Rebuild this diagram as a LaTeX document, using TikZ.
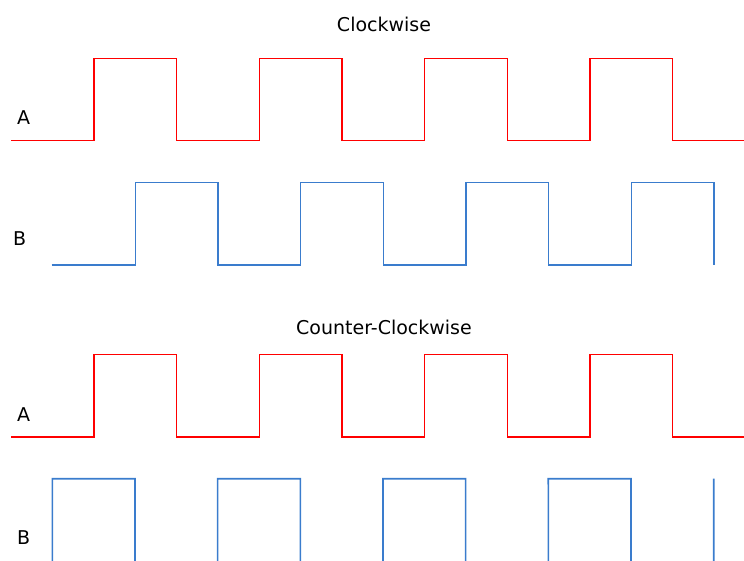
\documentclass[tikz,border=0pt]{standalone}
\usepackage{fontspec}
\setmainfont{DejaVu Sans}
\definecolor{sigred}{RGB}{255,0,0}
\definecolor{sigblue}{RGB}{58,124,205}
\tikzset{
  sigA/.style={draw=sigred, line width=1.3pt, line join=miter},
  sigB/.style={draw=sigblue, line width=1.6pt, line join=miter},
  lbl/.style={font=\fontsize{19}{22}\selectfont, inner sep=0pt},
  ttl/.style={font=\fontsize{19}{22}\selectfont, inner sep=0pt}
}
\begin{document}
\begin{tikzpicture}[x=1pt,y=-1pt]
\useasboundingbox (0,0) rectangle (744,560);
\clip (0,0) rectangle (744,560);
\def\P{165.33}
% ---- Clockwise ----
\node[ttl] (cwtitle) at (384,24) {Clockwise};
\node[lbl, anchor=west] (cwA) at (17,118) {A};
\node[lbl, anchor=west] (cwB) at (13,239) {B};
\draw[sigA] (11,140.7) \foreach \i in {0,1,2,3} {
  -- ({94+\P*\i},140.7) -- ({94+\P*\i},58.3)
  -- ({176.67+\P*\i},58.3) -- ({176.67+\P*\i},140.7) } -- (744,140.7);
\draw[sigB] (51.7,265) \foreach \i in {0,1,2,3} {
  -- ({135.33+\P*\i},265) -- ({135.33+\P*\i},182.3)
  -- ({218+\P*\i},182.3) -- ({218+\P*\i},265) };
% ---- Counter-Clockwise ----
\node[ttl] (ccwtitle) at (384,327) {Counter-Clockwise};
\node[lbl, anchor=west] (ccwA) at (17,414.5) {A};
\node[lbl, anchor=west] (ccwB) at (17,538) {B};
\draw[sigA] (11,437) \foreach \i in {0,1,2,3} {
  -- ({94+\P*\i},437) -- ({94+\P*\i},354.7)
  -- ({176.67+\P*\i},354.7) -- ({176.67+\P*\i},437) } -- (744,437);
\draw[sigB] (52.3,566) \foreach \i in {0,1,2,3} {
  -- ({52.3+\P*\i},478.7) -- ({135+\P*\i},478.7)
  -- ({135+\P*\i},566) -- ({217.67+\P*\i},566) }
  -- (713.7,566) -- (713.7,478.7);
\end{tikzpicture}
\end{document}
